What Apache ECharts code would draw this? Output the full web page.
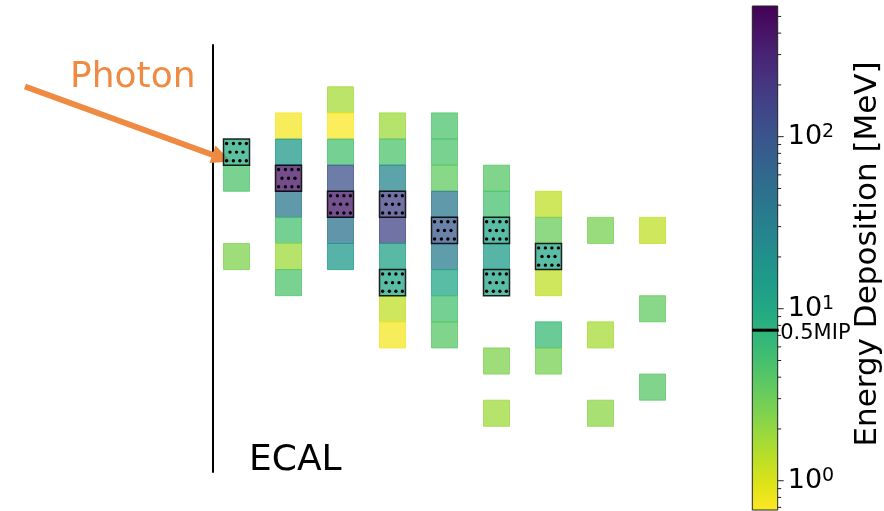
<!DOCTYPE html>
<html>
<head>
<meta charset="utf-8">
<script src="https://cdn.jsdelivr.net/npm/echarts@6/dist/echarts.min.js"></script>
<style>html,body{margin:0;padding:0;background:#fff}#c{width:884px;height:511px}</style>
</head>
<body>
<div id="c"></div>
<script>
// ---------------- data ----------------
const cellLayer = [0,0,0, 1,1,1,1,1,1,1, 2,2,2,2,2,2,2, 3,3,3,3,3,3,3,3,3, 4,4,4,4,4,4,4,4,4, 5,5,5,5,5,5,5, 6,6,6,6,6,6, 7,7,7, 8,8,8];
const cellRow = [2,3,6, 1,2,3,4,5,6,7, 0,1,2,3,4,5,6, 1,2,3,4,5,6,7,8,9, 1,2,3,4,5,6,7,8,9, 3,4,5,6,7,10,12, 4,5,6,7,9,10, 5,9,12, 5,8,11];
const cellEnergy = [9,4.5,2.5, 0.75,16,420,40,5,1.8,4.5, 1.7,0.7,5,110,380,45,15, 1.8,4.5,28,160,150,12,11,1.3,0.75, 4.5,4.5,3.5,40,90,35,11,5,4, 4,5,11,14,11,2.5,1.8, 1.3,3.2,10,1.3,6,2.7, 2.7,1.7,2.2, 1.3,3.5,4];
const cellMarked = [1,0,0, 0,0,1,0,0,0,0, 0,0,0,0,1,0,0, 0,0,0,1,0,0,1,0,0, 0,0,0,0,1,0,0,0,0, 0,0,1,0,1,0,0, 0,0,1,0,0,0, 0,0,0, 0,0,0];
const cbMin = 0.676, cbMax = 575;
const mipThreshold = 7.5;
const mipLabel = '0.5MIP';
const majorTicks = [1, 10, 100];
const minorTicks = [0.7,0.8,0.9, 2,3,4,5,6,7,8,9, 20,30,40,50,60,70,80,90, 200,300,400,500];
const cbTitle = 'Energy Deposition [MeV]';
const particleLabel = 'Photon';
const detectorLabel = 'ECAL';

// ---------------- styling ----------------
const FONT = 'DejaVu Sans';
const ORANGE = '#ef8a43';
const CELL_ALPHA = 0.75;
const VIRIDIS = ['#440154','#471365','#482475','#463480','#414487','#3b528b','#355f8d','#2f6c8e','#2a788e','#25848e','#21918c','#1e9c89','#22a884','#2fb47c','#44bf70','#5ec962','#7ad151','#9bd93c','#bddf26','#dfe318','#fde725'];
function hex2rgb(h){return [parseInt(h.substr(1,2),16),parseInt(h.substr(3,2),16),parseInt(h.substr(5,2),16)];}
const VRGB = VIRIDIS.map(hex2rgb);
function viridis(t){
  t = Math.max(0, Math.min(1, t));
  const f = t * (VRGB.length - 1);
  const i = Math.min(VRGB.length - 2, Math.floor(f));
  const u = f - i;
  return VRGB[i].map((v, k) => Math.round(v + (VRGB[i+1][k] - v) * u));
}
function energyRGB(e){
  const n = (Math.log10(e) - Math.log10(cbMin)) / (Math.log10(cbMax) - Math.log10(cbMin));
  return viridis(1 - n);
}
const rgba = (c, a) => 'rgba(' + c[0] + ',' + c[1] + ',' + c[2] + ',' + a + ')';

const cellData = cellLayer.map((l, i) => [l, cellRow[i], cellEnergy[i], cellMarked[i]]);

function renderCell(params, api){
  const c = api.value(0), r = api.value(1), e = api.value(2), m = api.value(3);
  const a = api.coord([c - 0.25, r]);
  const b = api.coord([c + 0.25, r + 1]);
  const x = a[0], y = Math.min(a[1], b[1]);
  const w = b[0] - a[0], h = Math.abs(b[1] - a[1]);
  const fill = rgba(energyRGB(e), CELL_ALPHA);
  const children = [{
    type: 'rect', z2: m ? 10 : 1,
    shape: {x: x, y: y, width: w, height: h},
    style: {fill: fill, stroke: m ? 'rgba(0,0,0,0.85)' : fill, lineWidth: m ? 1.5 : 1}
  }];
  if (m) {
    const rowsF = [0.17, 0.5, 0.83];
    rowsF.forEach((fy, k) => {
      const xs = (k % 2 === 0) ? [0.12, 0.38, 0.63, 0.88] : [0.25, 0.5, 0.75];
      xs.forEach(fx => children.push({
        type: 'circle', z2: 11,
        shape: {cx: x + fx * w, cy: y + fy * h, r: 1.7},
        style: {fill: '#000'}
      }));
    });
  }
  return {type: 'group', children: children};
}

function renderColorbar(params, api){
  const p0 = api.coord([0, api.value(1)]);
  const p1 = api.coord([1, api.value(0)]);
  const stops = VIRIDIS.map((c, i) => ({offset: i / (VIRIDIS.length - 1), color: c}));
  return {type: 'rect',
    shape: {x: p0[0], y: p1[1], width: p1[0] - p0[0], height: p0[1] - p1[1]},
    style: {fill: {type: 'linear', x: 0, y: 0, x2: 0, y2: 1, colorStops: stops}, stroke: '#222', lineWidth: 1}};
}

function renderTick(params, api){
  const p = api.coord([1, api.value(0)]);
  const len = api.value(1) ? 6 : 3.5;
  return {type: 'line', shape: {x1: p[0], y1: p[1], x2: p[0] + len, y2: p[1]}, style: {stroke: '#222', lineWidth: 1}};
}

function renderMip(params, api){
  const p0 = api.coord([0, api.value(0)]);
  const p1 = api.coord([1, api.value(0)]);
  return {type: 'group', children: [
    {type: 'line', shape: {x1: p0[0], y1: p0[1], x2: p1[0] + 1, y2: p1[1]}, style: {stroke: '#000', lineWidth: 3}},
    {type: 'text', x: p1[0] + 2.5, y: p1[1] + 3, style: {text: mipLabel, font: '21px "' + FONT + '"', fill: '#000', align: 'left', verticalAlign: 'middle'}}
  ]};
}

const tickData = majorTicks.map(v => [v, 1]).concat(minorTicks.map(v => [v, 0]));

const chart = echarts.init(document.getElementById('c'), null, {renderer: 'canvas'});
chart.setOption({
  animation: false,
  backgroundColor: '#fff',
  grid: [
    {left: 213, top: 45, width: 465.5, height: 427},
    {left: 752.3, top: 6, width: 25.4, height: 504}
  ],
  xAxis: [
    {gridIndex: 0, type: 'value', min: -0.452, max: 8.5, show: false},
    {gridIndex: 1, type: 'value', min: 0, max: 1, show: false}
  ],
  yAxis: [
    {gridIndex: 0, type: 'value', min: -1.6, max: 14.75, inverse: true, position: 'left',
     axisLine: {show: true, onZero: false, lineStyle: {color: '#000', width: 2}},
     axisTick: {show: false}, axisLabel: {show: false}, splitLine: {show: false}},
    {gridIndex: 1, type: 'log', logBase: 10, min: cbMin, max: cbMax, position: 'right',
     axisLine: {show: false}, axisTick: {show: false}, splitLine: {show: false},
     axisLabel: {show: true, margin: 10, showMinLabel: false, showMaxLabel: false,
       formatter: function(v){
         const lg = Math.log10(v); const e = Math.round(lg);
         if (Math.abs(lg - e) > 1e-6) return '';
         return '{b|10}{s|' + e + '}';
       },
       rich: {
         b: {fontSize: 27, fontFamily: FONT, color: '#000', verticalAlign: 'bottom', lineHeight: 28},
         s: {fontSize: 19, fontFamily: FONT, color: '#000', verticalAlign: 'top', lineHeight: 17}
       }}}
  ],
  series: [
    {type: 'custom', xAxisIndex: 0, yAxisIndex: 0, data: cellData, renderItem: renderCell, clip: false, z: 3},
    {type: 'custom', xAxisIndex: 1, yAxisIndex: 1, data: [[cbMin, cbMax]], renderItem: renderColorbar, clip: false, z: 2},
    {type: 'custom', xAxisIndex: 1, yAxisIndex: 1, data: tickData, renderItem: renderTick, clip: false, z: 3},
    {type: 'custom', xAxisIndex: 1, yAxisIndex: 1, data: [[mipThreshold]], renderItem: renderMip, clip: false, z: 4}
  ],
  graphic: [
    {type: 'polyline', z: 1, shape: {points: [[25, 86.5], [213, 155]]}, style: {stroke: ORANGE, lineWidth: 6, fill: null}},
    {type: 'polygon', z: 1, shape: {points: [[231, 161.5], [215.5, 145.5], [209.5, 163]]}, style: {fill: ORANGE}},
    {type: 'text', z: 5, x: 70, y: 78, style: {text: particleLabel, font: '36px "' + FONT + '"', fill: ORANGE, align: 'left', verticalAlign: 'middle'}},
    {type: 'text', z: 5, x: 249, y: 461, style: {text: detectorLabel, font: '36px "' + FONT + '"', fill: '#000', align: 'left', verticalAlign: 'middle'}},
    {type: 'text', z: 5, x: 868, y: 254, rotation: Math.PI / 2, style: {text: cbTitle, font: '31px "' + FONT + '"', fill: '#000', align: 'center', verticalAlign: 'middle'}}
  ]
});
</script>
</body>
</html>
